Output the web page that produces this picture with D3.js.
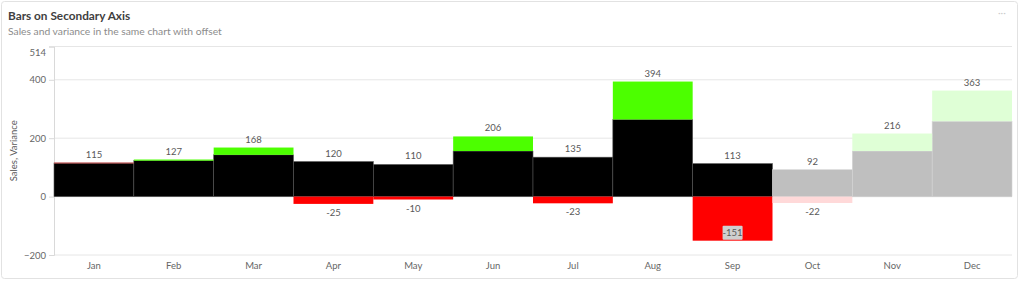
<!DOCTYPE html>
<html><head><meta charset="utf-8">
<script src="https://cdn.jsdelivr.net/npm/d3@7"></script>
<style>
html,body{margin:0;padding:0;background:#fff;}
svg{display:block;font-family:Lato,sans-serif;}
</style></head>
<body><svg id="c" width="1024" height="282"></svg>
<script>
const months = ["Jan","Feb","Mar","Apr","May","Jun","Jul","Aug","Sep","Oct","Nov","Dec"];
const sales = [115,127,168,120,110,206,135,394,113,92,216,363];
const variance = [0,4,25,-25,-10,50,-23,130,-151,-22,60,105];
const forecast = [false,false,false,false,false,false,false,false,false,true,true,true];
const yTicks = [-200,0,200,400,514];

const svg = d3.select("#c");
// card
svg.append("rect").attr("x",1.5).attr("y",1.5).attr("width",1016).attr("height",277)
  .attr("rx",3).attr("fill","#fff").attr("stroke","#e2e2e2");
svg.append("text").attr("x",8).attr("y",19.5).attr("font-size",11.8).attr("font-weight",700)
  .attr("fill","#404040").text("Bars on Secondary Axis");
svg.append("text").attr("x",8).attr("y",35).attr("font-size",10.3)
  .attr("fill","#8c8c8c").text("Sales and variance in the same chart with offset");
// menu dots
svg.append("text").attr("x",998).attr("y",16).attr("font-size",10).attr("fill","#ccc").text("···");

const L=54, R=1012, T=46.5, B=255;
const x = d3.scaleBand().domain(months).range([L,R]).padding(0);
const y = d3.scaleLinear().domain([-200,514]).range([B,T]);

// grid
svg.append("g").selectAll("line").data(yTicks).join("line")
  .attr("x1",L).attr("x2",R).attr("y1",d=>y(d)).attr("y2",d=>y(d))
  .attr("stroke",d=>d===0?"#bdbdbd":"#e6e6e6").attr("stroke-width",1);

// y axis
const ya = svg.append("g").attr("transform",`translate(${L},0)`)
  .call(d3.axisLeft(y).tickValues(yTicks).tickSize(5).tickFormat(d3.format("d")));
ya.select(".domain").attr("stroke","#d9d9d9");
ya.selectAll(".tick line").attr("stroke","#d9d9d9");
ya.selectAll(".tick text").attr("fill","#666").attr("font-size",9.5).attr("font-family","Lato")
  .attr("dy",d=>d===514?"0.9em":"0.32em");
svg.append("text").attr("transform",`translate(17,${(T+B)/2}) rotate(-90)`)
  .attr("text-anchor","middle").attr("font-size",9.5).attr("fill","#595959").text("Sales, Variance");

// x axis labels
svg.append("g").selectAll("text").data(months).join("text")
  .attr("x",d=>x(d)+x.bandwidth()/2).attr("y",269).attr("text-anchor","middle")
  .attr("font-size",9.5).attr("fill","#666").text(d=>d);

const data = months.map((m,i)=>({m,s:sales[i],v:variance[i],f:forecast[i]}));
const base = d=> d.v>0 ? d.s-d.v : d.s;

// sales bars
svg.append("g").selectAll("rect").data(data).join("rect")
  .attr("x",d=>x(d.m)).attr("width",x.bandwidth())
  .attr("y",d=>y(base(d))).attr("height",d=>y(0)-y(base(d)))
  .attr("fill",d=>d.f?"#bfbfbf":"#000")
  .attr("stroke",d=>d.f?"#d4d4d4":"#555").attr("stroke-width",0.6);

// variance bars
const col = d=> d.v>0 ? (d.f?"#dfffd6":"#4cff00") : (d.f?"#ffd9d9":"#ff0000");
svg.append("g").selectAll("rect").data(data.filter(d=>d.v!==0)).join("rect")
  .attr("x",d=>x(d.m)).attr("width",x.bandwidth())
  .attr("y",d=>d.v>0?y(d.s):y(0))
  .attr("height",d=>Math.abs(y(d.v)-y(0)))
  .attr("fill",col);
// zero variance marker
svg.append("g").selectAll("line").data(data.filter(d=>d.v===0)).join("line")
  .attr("x1",d=>x(d.m)).attr("x2",d=>x(d.m)+x.bandwidth())
  .attr("y1",d=>y(d.s)).attr("y2",d=>y(d.s)).attr("stroke","#e06060").attr("stroke-width",1);

// sales labels
svg.append("g").selectAll("text").data(data).join("text")
  .attr("x",d=>x(d.m)+x.bandwidth()/2).attr("y",d=>y(d.s)-5)
  .attr("text-anchor","middle").attr("font-size",9.5).attr("fill","#595959").text(d=>d.s);

// negative variance labels
const neg = data.filter(d=>d.v<0);
const inside = d=> Math.abs(y(d.v)-y(0))>30;
const lg = svg.append("g");
neg.filter(inside).forEach(d=>{
  const cx=x(d.m)+x.bandwidth()/2, cy=y(d.v)-8;
  lg.append("rect").attr("x",cx-10).attr("y",cy-7).attr("width",20).attr("height",14)
    .attr("fill","#cfcfcf").attr("rx",1);
});
lg.selectAll("text").data(neg).join("text")
  .attr("x",d=>x(d.m)+x.bandwidth()/2)
  .attr("y",d=>inside(d)? y(d.v)-8+3.2 : y(d.v)+12)
  .attr("text-anchor","middle").attr("font-size",9.5).attr("fill","#595959").text(d=>d.v);
</script></body></html>
